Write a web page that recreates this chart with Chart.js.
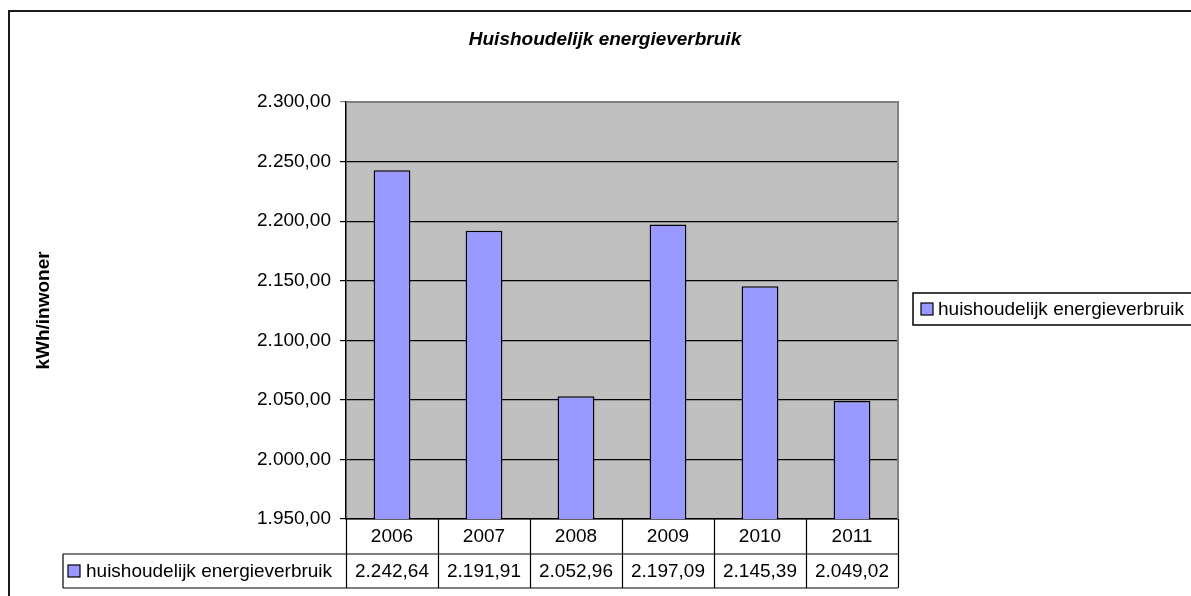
<!DOCTYPE html>
<html>
<head>
<meta charset="utf-8">
<title>Huishoudelijk energieverbruik</title>
<script src="https://cdn.jsdelivr.net/npm/chart.js@4/dist/chart.umd.min.js"></script>
<style>
  html, body { margin: 0; padding: 0; background: #ffffff; }
  canvas { display: block; }
</style>
</head>
<body>
<canvas id="energyChart" width="1191" height="596"></canvas>
<script>
/* ==============================
   DATA
============================== */
var years = ["2006", "2007", "2008", "2009", "2010", "2011"];
var consumption = [2242.64, 2191.91, 2052.96, 2197.09, 2145.39, 2049.02];
var seriesName = "huishoudelijk energieverbruik";
var chartTitle = "Huishoudelijk energieverbruik";
var axisTitle = "kWh/inwoner";
var yMin = 1950;
var yMax = 2300;
var yStep = 50;

var FONT = "'Liberation Sans', Arial, sans-serif";
var BAR_COLOR = "#9999ff";

// 2242.64 -> "2.242,64"
function formatNL(v) {
    var parts = Number(v).toFixed(2).split(".");
    var whole = parts[0].replace(/\B(?=(\d{3})+(?!\d))/g, ".");
    return whole + "," + parts[1];
}

/* ==============================
   EXTRAS: frame, plot bg, title, legend, data table
============================== */
var excelPlugin = {
    id: "excelExtras",
    beforeDraw: function (chart) {
        var ctx = chart.ctx;
        var a = chart.chartArea;
        ctx.save();
        ctx.fillStyle = "#ffffff";
        ctx.fillRect(0, 0, chart.width, chart.height);
        // plot area background
        ctx.fillStyle = "#c0c0c0";
        ctx.fillRect(a.left, a.top, a.right - a.left, a.bottom - a.top);
        ctx.restore();
    },
    afterDraw: function (chart) {
        var ctx = chart.ctx;
        var a = chart.chartArea;
        var xs = chart.scales.x;
        var half = (xs.getPixelForValue(1) - xs.getPixelForValue(0)) / 2;
        var row1 = a.bottom + 35;
        var row2 = a.bottom + 69;
        var keyLeft = 63;

        ctx.save();

        // plot area border (top + right, gray)
        ctx.strokeStyle = "#808080";
        ctx.lineWidth = 2;
        ctx.beginPath();
        ctx.moveTo(a.left, a.top);
        ctx.lineTo(a.right, a.top);
        ctx.lineTo(a.right, a.bottom);
        ctx.stroke();

        // outer chart frame
        ctx.strokeStyle = "#1a1a1a";
        ctx.lineWidth = 2;
        ctx.strokeRect(9, 11, chart.width + 20, chart.height + 20);

        // title
        ctx.fillStyle = "#000000";
        ctx.font = "italic bold 19px " + FONT;
        ctx.textAlign = "center";
        ctx.textBaseline = "middle";
        ctx.fillText(chartTitle, 605, 40);

        // y axis title
        ctx.save();
        ctx.translate(44, (a.top + a.bottom) / 2);
        ctx.rotate(-Math.PI / 2);
        ctx.font = "bold 19px " + FONT;
        ctx.fillText(axisTitle, 0, 0);
        ctx.restore();

        // legend box on the right
        ctx.strokeStyle = "#000000";
        ctx.lineWidth = 1.5;
        ctx.strokeRect(913, 293, 300, 32);
        ctx.fillStyle = BAR_COLOR;
        ctx.fillRect(921, 303, 12, 12);
        ctx.lineWidth = 1.2;
        ctx.strokeRect(921, 303, 12, 12);
        ctx.fillStyle = "#000000";
        ctx.font = "19px " + FONT;
        ctx.textAlign = "left";
        ctx.fillText(seriesName, 938, 310);

        // data table lines
        ctx.strokeStyle = "#000000";
        ctx.lineWidth = 1.2;
        ctx.beginPath();
        for (var i = 0; i <= years.length; i++) {
            var bx = Math.round(xs.getPixelForValue(0) - half + i * 2 * half) + 0.5;
            ctx.moveTo(bx, a.bottom);
            ctx.lineTo(bx, row2);
        }
        ctx.moveTo(keyLeft, row1);
        ctx.lineTo(a.right, row1);
        ctx.moveTo(keyLeft, row2);
        ctx.lineTo(a.right, row2);
        ctx.moveTo(keyLeft, row1);
        ctx.lineTo(keyLeft, row2);
        ctx.stroke();

        // legend key in table
        var midRow = (row1 + row2) / 2;
        ctx.fillStyle = BAR_COLOR;
        ctx.fillRect(68, midRow - 6, 12, 12);
        ctx.strokeRect(68, midRow - 6, 12, 12);
        ctx.fillStyle = "#000000";
        ctx.textAlign = "left";
        ctx.fillText(seriesName, 86, midRow + 1);

        // values
        ctx.textAlign = "center";
        consumption.forEach(function (v, idx) {
            ctx.fillText(formatNL(v), xs.getPixelForValue(idx), midRow + 1);
        });

        ctx.restore();
    }
};

/* ==============================
   CHART
============================== */
var energyChart = new Chart(document.getElementById("energyChart"), {
    type: "bar",
    data: {
        labels: years,
        datasets: [{
                label: seriesName,
                data: consumption,
                backgroundColor: BAR_COLOR,
                borderColor: "#000000",
                borderWidth: 1.5,
                borderSkipped: false,
                categoryPercentage: 1,
                barPercentage: 0.4
            }]
    },
    options: {
        responsive: false,
        animation: false,
        devicePixelRatio: 1,
        layout: {
            padding: { top: 102, right: 293, bottom: 0, left: 0 }
        },
        plugins: {
            legend: { display: false },
            title: { display: false },
            tooltip: { enabled: false }
        },
        scales: {
            x: {
                grid: { display: false, drawTicks: false },
                border: { display: true, color: "#000000", width: 1.5 },
                ticks: {
                    color: "#000000",
                    padding: 6,
                    font: { family: FONT, size: 19 }
                },
                afterFit: function (scale) { scale.height = 77; }
            },
            y: {
                min: yMin,
                max: yMax,
                grid: {
                    color: function (c) {
                        return c.tick && c.tick.value === yMax ? "#808080" : "#000000";
                    },
                    lineWidth: 1.2,
                    drawTicks: true,
                    tickLength: 6
                },
                border: { display: true, color: "#000000", width: 1.5 },
                ticks: {
                    stepSize: yStep,
                    color: "#000000",
                    padding: 9,
                    font: { family: FONT, size: 19 },
                    callback: function (v) { return formatNL(v); }
                },
                afterFit: function (scale) { scale.width = 346; }
            }
        }
    },
    plugins: [excelPlugin]
});
</script>
</body>
</html>
